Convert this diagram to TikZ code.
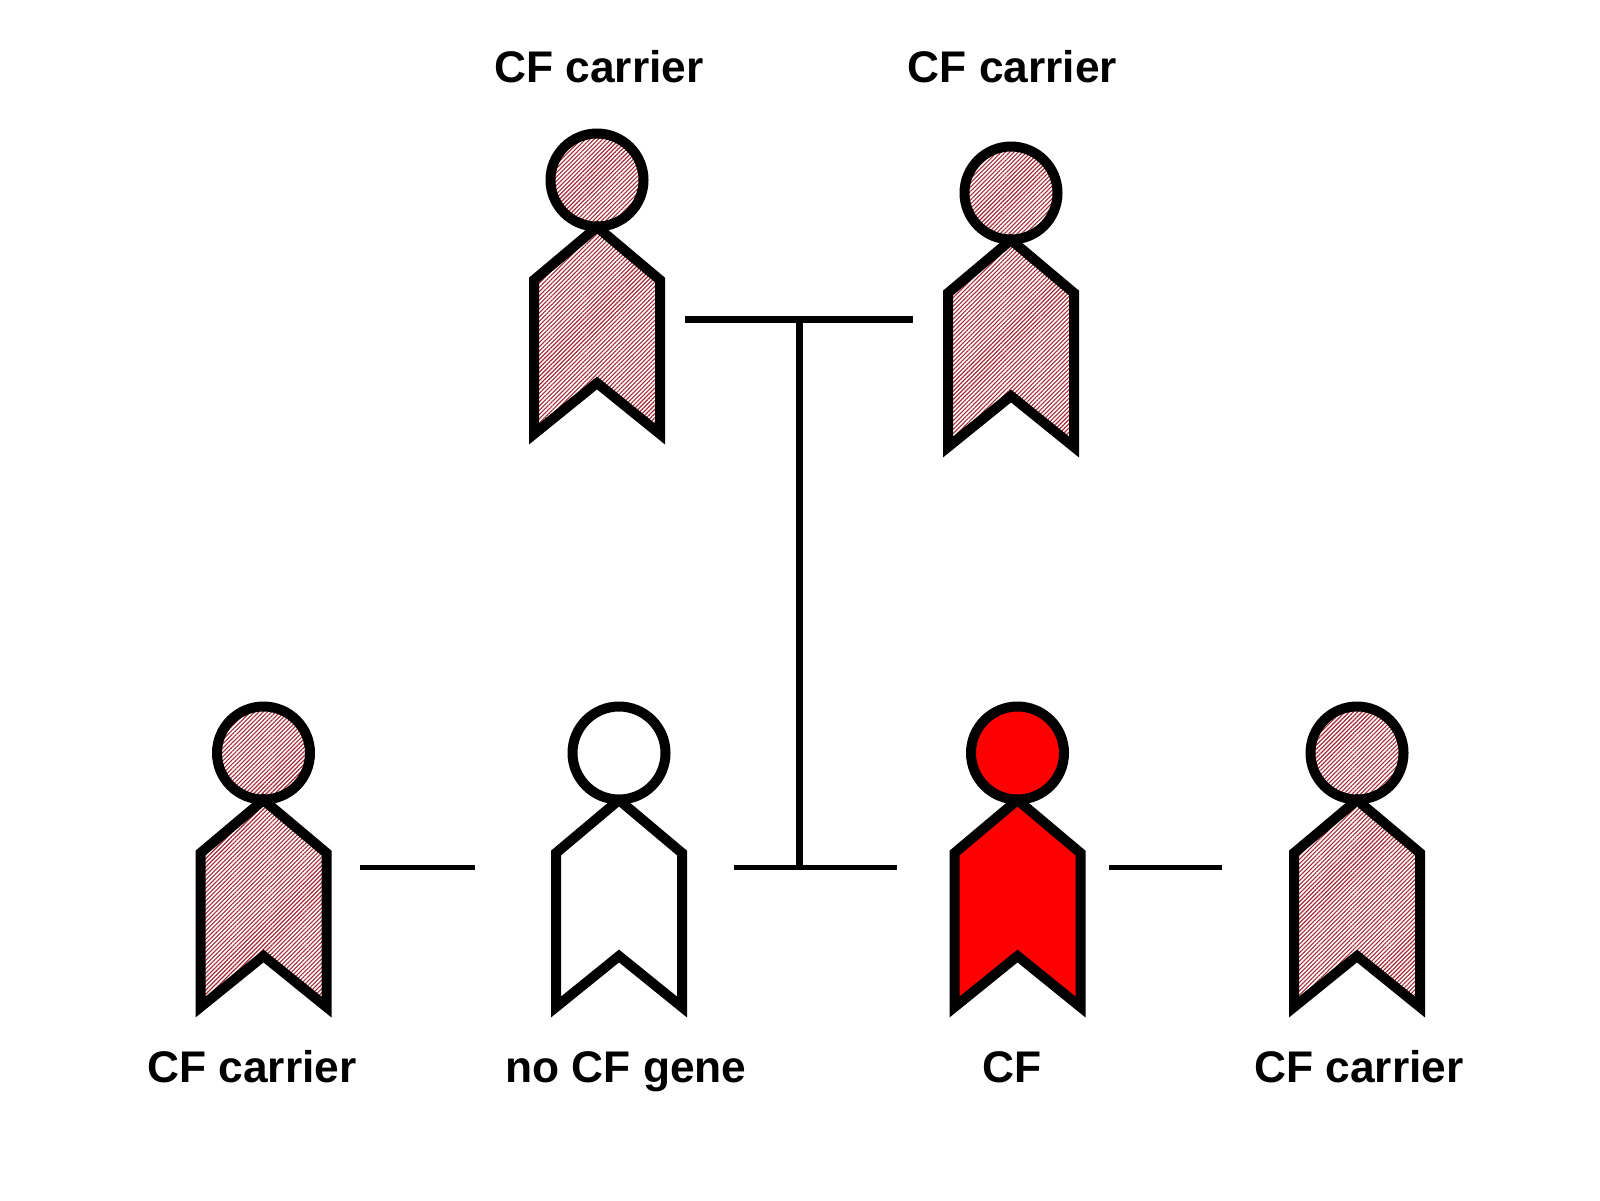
\documentclass[tikz,border=0pt]{standalone}
\usepackage{fontspec}
\setmainfont{Liberation Sans}
\usetikzlibrary{patterns.meta}
\definecolor{cfred}{RGB}{255,0,0}
\definecolor{hatchred}{RGB}{165,40,50}
\tikzset{
  x=0.5pt,y=-0.5pt,
  outline/.style={draw=black,line width=5pt,line join=miter,miter limit=10},
  carrier/.style={pattern={Lines[angle=45,distance=1.5pt,line width=0.55pt]},pattern color=hatchred},
  affected/.style={fill=cfred},
  clear/.style={fill=white},
  bar/.style={draw=black,line width=3.2pt},
  thinbar/.style={draw=black,line width=2.5pt},
  label/.style={font=\fontsize{22.15}{26}\selectfont\bfseries,text=black,inner sep=0pt,anchor=base}
}
\newcommand{\personfig}[4]{%
  \begin{scope}[shift={(#1,#2)}]
    \path[#3] (0,47) -- (63,100) -- (63,254) -- (0,203) -- (-63,254) -- (-63,100) -- cycle;
    \path[outline] (0,47) -- (63,100) -- (63,254) -- (0,203) -- (-63,254) -- (-63,100) -- cycle;
    \path[#3] (0,0) circle[radius=46.5];
    \path[outline] (0,0) circle[radius=46.5];
    \coordinate (#4) at (0,0);
  \end{scope}}
\begin{document}
\begin{tikzpicture}
\useasboundingbox (0,0) rectangle (1600,1200);
\personfig{597}{180}{carrier}{grandA}
\personfig{1011}{193}{carrier}{grandB}
\personfig{263.5}{753}{carrier}{spouseA}
\personfig{619}{753}{clear}{childA}
\personfig{1017.5}{753}{affected}{childB}
\personfig{1357}{753}{carrier}{spouseB}
\coordinate (ta) at (685,319.5);
\coordinate (tb) at (913,319.5);
\coordinate (tm) at (799.5,319.5);
\coordinate (ba) at (734,867.5);
\coordinate (bb) at (897,867.5);
\coordinate (bm) at (799.5,867.5);
\coordinate (la) at (360,867.5);
\coordinate (lb) at (474.5,867.5);
\coordinate (ra) at (1109,867.5);
\coordinate (rb) at (1222,867.5);
\draw[bar] (ta) -- (tb);
\draw[bar] (tm) -- (bm);
\draw[thinbar] (ba) -- (bb);
\draw[thinbar] (la) -- (lb);
\draw[thinbar] (ra) -- (rb);
\node[label] (t1) at (599,82) {CF carrier};
\node[label] (t2) at (1012.5,82) {CF carrier};
\node[label] (t3) at (252,1082) {CF carrier};
\node[label] (t4) at (626,1082) {no CF gene};
\node[label] (t5) at (1012,1082) {CF};
\node[label] (t6) at (1359,1082) {CF carrier};
\end{tikzpicture}
\end{document}
